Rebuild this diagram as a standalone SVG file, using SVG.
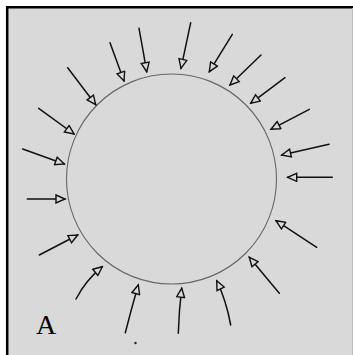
<svg xmlns="http://www.w3.org/2000/svg" width="353" height="355" viewBox="0 0 353 355">
  <defs>
    <marker id="ah" viewBox="0 0 12 10" markerWidth="12" markerHeight="10" refX="10.5" refY="5" orient="auto" markerUnits="userSpaceOnUse">
      <path d="M1.5,1 L10.5,5 L1.5,9 Z" fill="#d9d9d9" stroke="#111" stroke-width="1.4" stroke-linejoin="miter"/>
    </marker>
  </defs>
  <style>
    .bg { fill: #d9d9d9; }
    .frame { fill: none; stroke: #000; stroke-width: 2.5; }
    .circ { fill: none; stroke: #666; stroke-width: 1.1; }
    .arr { fill: none; stroke: #111; stroke-width: 1.5; stroke-linecap: round; marker-end: url(#ah); }
    .lbl { font-family: "Liberation Serif", "Times New Roman", serif; font-size: 28px; fill: #000; }
  </style>
  <rect x="0" y="0" width="353" height="355" fill="#ffffff"/>
  <rect class="bg" x="7" y="7" width="346" height="348"/>
  <path class="frame" d="M7.2,355 L7.2,7.2 L353,7.2"/>
  <line x1="352.5" y1="8" x2="352.5" y2="355" stroke="#bdbdbd" stroke-width="1"/>
  <g id="cell">
    <circle class="circ" cx="171.5" cy="179" r="105"/>
  </g>
  <g id="connectors">
    <path class="arr" d="M190.7,22.7 Q186,45 181,68.3"/>
    <path class="arr" d="M232.3,34.3 L209.3,71.7"/>
    <path class="arr" d="M261,55 L230,85"/>
    <path class="arr" d="M285,77.7 L250.7,103.3"/>
    <path class="arr" d="M309.3,109.3 L271,129.3"/>
    <path class="arr" d="M329,144.3 L281.7,155"/>
    <path class="arr" d="M332.3,177.3 L287.7,177.3"/>
    <path class="arr" d="M316.7,247.3 L276,220.7"/>
    <path class="arr" d="M279.3,293.3 L249.3,257.3"/>
    <path class="arr" d="M230.7,325 Q226,300 216.7,280.7"/>
    <path class="arr" d="M178.3,333.3 Q179,310 181.7,288.3"/>
    <path class="arr" d="M125.3,332.7 Q131,310 138.3,285"/>
    <path class="arr" d="M76,299 Q86,280 102.3,266.7"/>
    <path class="arr" d="M39.3,255 L77.7,235"/>
    <path class="arr" d="M27.3,199 L65,199"/>
    <path class="arr" d="M22.7,149 L64.3,164"/>
    <path class="arr" d="M38.7,108.3 L74,134"/>
    <path class="arr" d="M67.7,67.7 L95.7,104.7"/>
    <path class="arr" d="M110,42.7 L124,81"/>
    <path class="arr" d="M139,28.3 Q143,50 146.7,71.7"/>
  </g>
  <circle cx="135.5" cy="343" r="1.2" fill="#222"/>
  <text class="lbl" x="36" y="334">A</text>
</svg>
